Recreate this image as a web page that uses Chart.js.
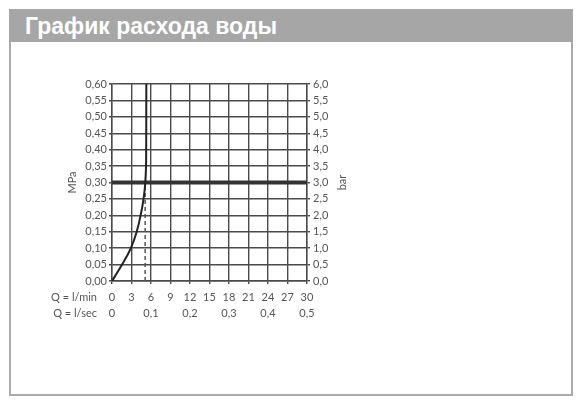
<!DOCTYPE html>
<html lang="ru">
<head>
<meta charset="utf-8">
<title>График расхода воды</title>
<script src="https://cdn.jsdelivr.net/npm/chart.js@4.4.1/dist/chart.umd.min.js"></script>
<style>
  body { margin: 0; background: #fff; }
  .head {
    position: absolute; left: 9px; top: 9px; width: 564px; height: 33px;
    background: #a6a6a6; color: #fff;
    font: bold 23px "Liberation Sans", Arial, sans-serif;
    line-height: 33px; box-sizing: border-box; padding: 1px 0 0 16px;
  }
  .frame {
    position: absolute; left: 9px; top: 42px; width: 564px; height: 354px;
    border: 2px solid #aaa; border-top: none; box-sizing: border-box;
  }
  #chart { position: absolute; left: 0; top: 0; }
</style>
</head>
<body>
<div class="head">График расхода воды</div>
<div class="frame"></div>
<canvas id="chart" width="583" height="407"></canvas>
<script>
// flow curve (Q in l/min, p in MPa)
const flowLpm = [0, 1.55, 2.9, 3.8, 4.4, 4.85, 5.12, 5.22, 5.26, 5.28];
const pressureMPa = [0, 0.05, 0.10, 0.15, 0.20, 0.25, 0.30, 0.34, 0.40, 0.60];

// working pressure line and the flow at that pressure
const workPressure = 0.30;
const workFlow = 5.1;

const mpaTicks = ['0,00', '0,05', '0,10', '0,15', '0,20', '0,25', '0,30', '0,35', '0,40', '0,45', '0,50', '0,55', '0,60'];
const barTicks = ['0,0', '0,5', '1,0', '1,5', '2,0', '2,5', '3,0', '3,5', '4,0', '4,5', '5,0', '5,5', '6,0'];
const lpmTicks = ['0', '3', '6', '9', '12', '15', '18', '21', '24', '27', '30'];
const lpsTicks = ['0', '0,1', '0,2', '0,3', '0,4', '0,5'];

Chart.defaults.font.family = 'Lato';
Chart.defaults.font.size = 11;
Chart.defaults.color = '#555';

const gridColor = '#4a4a4a';

// row captions left of the x labels, and "bar" turned the same way as "MPa"
const extraText = {
  id: 'extraText',
  afterDraw(chart) {
    const c = chart.ctx;
    const x = chart.scales.x, x2 = chart.scales.x2, area = chart.chartArea;
    c.save();
    c.font = '11px Lato';
    c.fillStyle = '#555';
    c.textAlign = 'right';
    c.textBaseline = 'middle';
    c.fillText('Q = l/min', 97, x.top + 3 + 7 + 6.6);
    c.fillText('Q = l/sec', 97, x2.top + 4 + 6.6);
    c.translate(342, (area.top + area.bottom) / 2);
    c.rotate(-Math.PI / 2);
    c.textAlign = 'center';
    c.fillText('bar', 0, 0);
    c.restore();
  }
};

const curve = flowLpm.map((q, i) => ({ x: q, y: pressureMPa[i] }));

new Chart(document.getElementById('chart'), {
  type: 'line',
  data: {
    datasets: [
      {
        data: curve,
        borderColor: '#222',
        borderWidth: 2,
        cubicInterpolationMode: 'monotone',
        pointRadius: 0
      },
      {
        data: [{ x: 0, y: workPressure }, { x: 30, y: workPressure }],
        borderColor: '#333',
        borderWidth: 4,
        pointRadius: 0
      },
      {
        data: [{ x: workFlow, y: 0 }, { x: workFlow, y: workPressure }],
        borderColor: '#555',
        borderWidth: 1.5,
        borderDash: [4, 3],
        pointRadius: 0
      }
    ]
  },
  options: {
    responsive: false,
    animation: false,
    layout: { padding: { left: 60, right: 234, top: 84, bottom: 84 } },
    plugins: { legend: { display: false }, tooltip: { enabled: false } },
    scales: {
      x: {
        type: 'linear', position: 'bottom', weight: 0,
        min: 0, max: 30,
        grid: { color: gridColor, lineWidth: 1.4, tickLength: 3 },
        border: { color: gridColor, width: 1.4 },
        ticks: { stepSize: 3, padding: 7, maxRotation: 0, callback: (v, i) => lpmTicks[i] },
        afterFit: s => { s.height = 22; }
      },
      y: {
        position: 'left',
        min: 0, max: 0.6,
        grid: { color: gridColor, lineWidth: 1.4, tickLength: 3 },
        border: { color: gridColor, width: 1.4 },
        ticks: { stepSize: 0.05, padding: 2, callback: (v, i) => mpaTicks[i] },
        title: { display: true, text: 'MPa', padding: { top: 6, bottom: 0 }, font: { size: 11 } },
        afterFit: s => { s.width = 52; }
      },
      y2: {
        position: 'right',
        min: 0, max: 6,
        grid: { drawOnChartArea: false, color: gridColor, lineWidth: 1.4, tickLength: 3 },
        border: { color: gridColor, width: 1.4 },
        ticks: { stepSize: 0.5, padding: 3, callback: (v, i) => barTicks[i] },
        afterFit: s => { s.width = 42; }
      },
      x2: {
        type: 'linear', position: 'bottom', weight: 1,
        min: 0, max: 0.5,
        grid: { display: false, drawTicks: false },
        border: { display: false },
        ticks: { stepSize: 0.1, padding: 4, maxRotation: 0, callback: (v, i) => lpsTicks[i] },
        afterFit: s => { s.height = 20; }
      }
    }
  },
  plugins: [extraText]
});
</script>
</body>
</html>
